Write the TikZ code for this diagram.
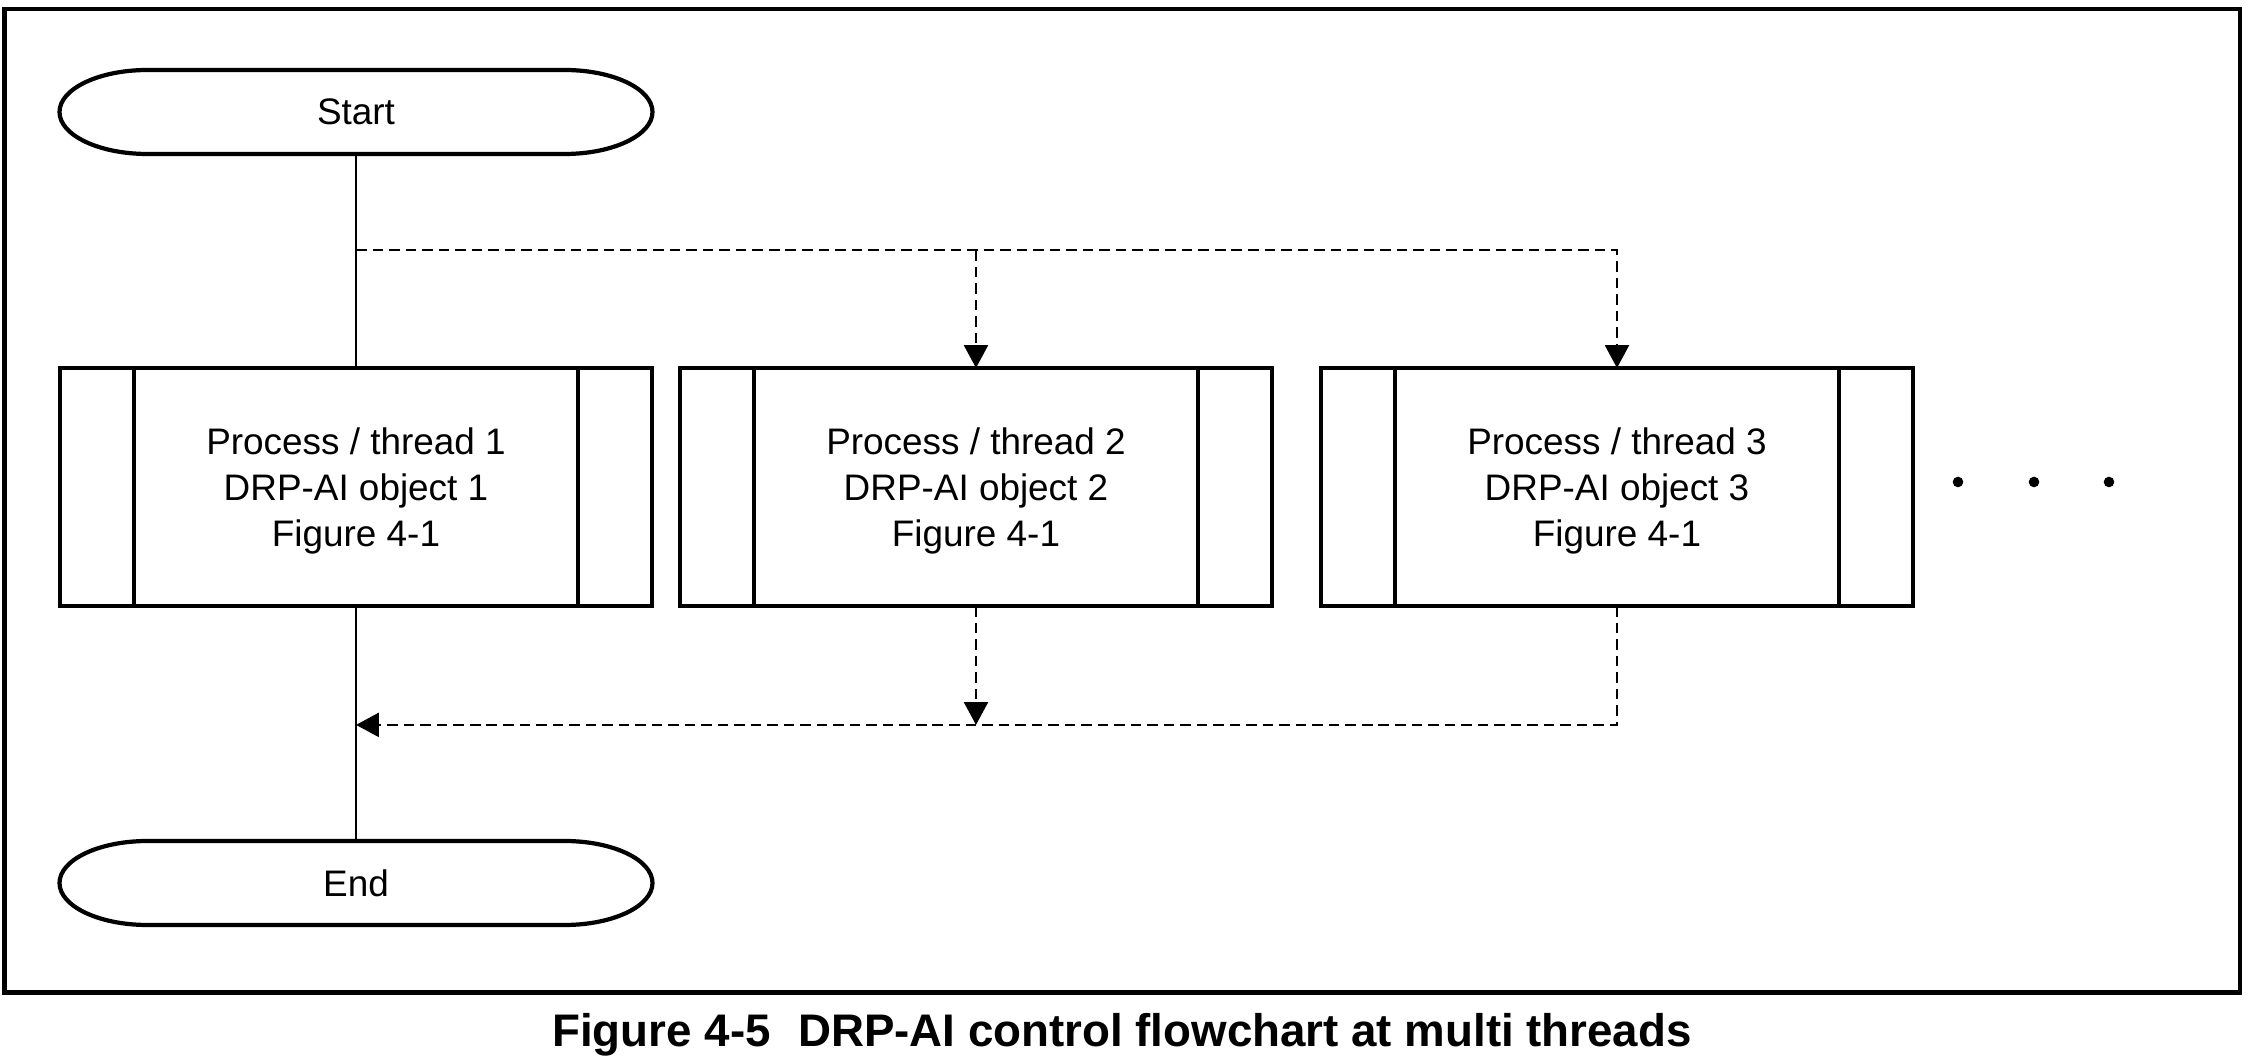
\documentclass[tikz,border=0pt]{standalone}
\usepackage{fontspec}
\setmainfont{Liberation Sans}
\usetikzlibrary{arrows.meta,positioning,calc}
\tikzset{
    terminal/.style = {rectangle,
                    outer sep=0pt,
                    text=black,
                    minimum width=5.93cm,
                    minimum height=0.84cm,
                    font=\fontsize{10.5}{13.1}\selectfont},
    process/.style = {rectangle,
                    draw=black,
                    text=black,
                    very thick,
                    outer sep=0pt,
                    align=center,
                    text depth=0pt,
                    minimum width=5.92cm,
                    minimum height=2.38cm,
                    font=\fontsize{10.5}{13.1}\selectfont,
                    path picture={
                        \draw[very thick] ([xshift=0.74cm]path picture bounding box.north west)
                            -- ([xshift=0.74cm]path picture bounding box.south west);
                        \draw[very thick] ([xshift=-0.74cm]path picture bounding box.north east)
                            -- ([xshift=-0.74cm]path picture bounding box.south east);}},
    caption/.style = {text=black,
                    font=\fontsize{13}{15}\selectfont\bfseries},
    flow/.style =   {draw=black,
                    line width=0.55pt},
    branch/.style = {draw=black,
                    line width=0.75pt,
                    dash pattern=on 3pt off 1.7pt},
    >={Triangle[length=6.5pt,width=6.8pt]},
    node distance=2cm}
% outline of a start / end node, with elliptic ends
\newcommand{\termline}[1]{%
    \draw[very thick] ([xshift=0.88cm]#1.north west) -- ([xshift=-0.88cm]#1.north east)
        arc[start angle=90, end angle=-90, x radius=0.88cm, y radius=0.42cm]
        -- ([xshift=0.88cm]#1.south west)
        arc[start angle=270, end angle=90, x radius=0.88cm, y radius=0.42cm] -- cycle;}

\begin{document}
\begin{tikzpicture}
    \useasboundingbox (0,0) rectangle (22.53,-10.63);
    \draw[very thick] (0.045,-0.09) rectangle (22.40,-9.925);

    \node[terminal]     (start) at (3.56,-1.12)          {Start};
    \node[process]      (p1) [below=2.14cm of start]    {Process / thread 1\\DRP-AI object 1\\Figure 4-1};
    \node[process]      (p2) [right=0.28cm of p1]       {Process / thread 2\\DRP-AI object 2\\Figure 4-1};
    \node[process]      (p3) [right=0.49cm of p2]       {Process / thread 3\\DRP-AI object 3\\Figure 4-1};
    \node[terminal]     (end) [below=2.35cm of p1]      {End};
    \termline{start}
    \termline{end}

    \coordinate (split) at ($(start.south)!0.449!(p1.north)$);
    \coordinate (split2) at (split -| p2.north);
    \coordinate (merge) at ($(p1.south)!0.506!(end.north)$);
    \coordinate (merge2) at (merge -| p2.south);

    \path [flow]    (start) edge (p1)
                    (p1) edge (end);
    \draw [branch,->] (split) -| (p3.north);
    \draw [branch,->] (split2) -- (p2.north);
    \draw [branch,->] (p3.south) |- (merge);
    \draw [branch,->] (p2.south) -- (merge2);

    \foreach \dx in {0.45,1.21,1.96}
        \fill ([xshift=\dx cm,yshift=0.05cm]p3.east) circle (0.053);

    \node[caption]      (title) at (11.22,-10.35)       {Figure 4-5\hspace{0.6em}DRP-AI control flowchart at multi threads};
\end{tikzpicture}
\end{document}
